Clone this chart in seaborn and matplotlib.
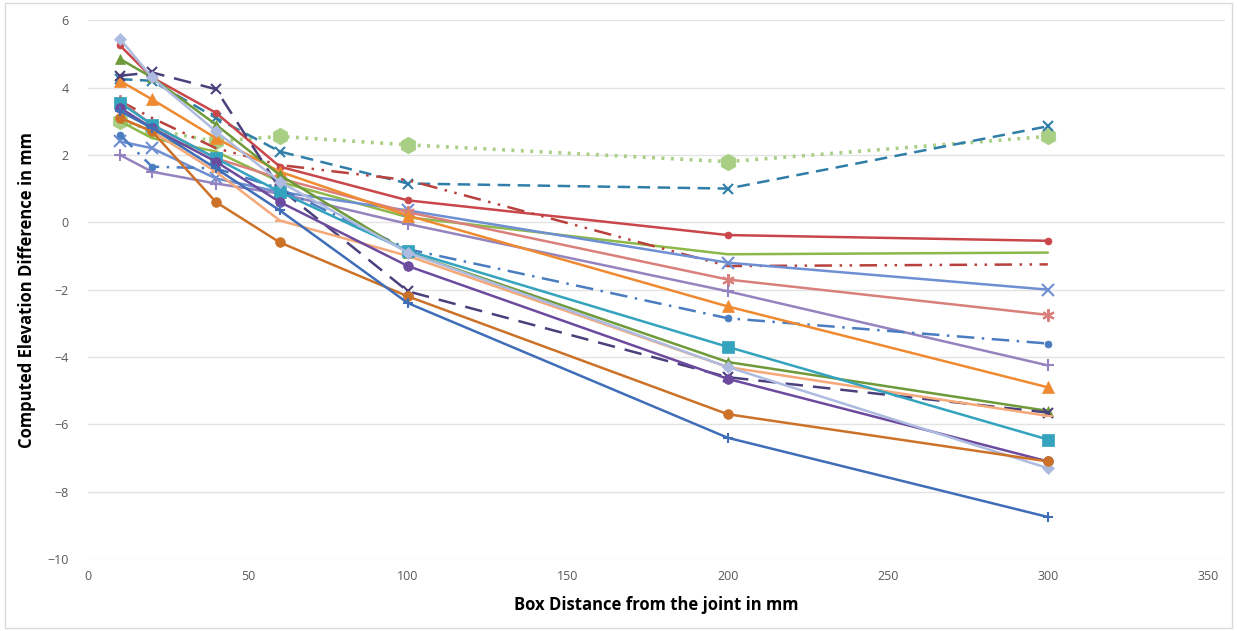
import numpy as np
import pandas as pd
import matplotlib
matplotlib.use("Agg")
import matplotlib.pyplot as plt
import seaborn as sns

# Box distances from the joint (mm)
distance = [10, 20, 40, 60, 100, 200, 300]

# Computed elevation differences (mm), one list per test series
s_green_dotted = [3.0, 2.75, 2.4, 2.55, 2.3, 1.8, 2.55]
s_teal_dashed = [4.25, 4.2, 3.1, 2.1, 1.15, 1.0, 2.85]
s_red_circle = [5.25, 4.3, 3.25, 1.65, 0.65, -0.38, -0.55]
s_green_plain = [3.0, 2.5, 2.1, 1.2, 0.15, -0.95, -0.9]
s_red_dashdot = [3.6, 3.1, 2.2, 1.7, 1.25, -1.3, -1.25]
s_blue_x = [2.4, 2.2, 1.3, 0.9, 0.35, -1.2, -2.0]
s_pink_star = [3.6, 2.9, 1.9, 1.3, 0.3, -1.7, -2.75]
s_purple_plus = [2.0, 1.5, 1.15, 0.85, -0.05, -2.05, -4.25]
s_blue_dashdot = [2.6, 1.65, 1.6, 1.0, -0.8, -2.85, -3.6]
s_orange_tri = [4.2, 3.65, 2.5, 1.5, 0.2, -2.5, -4.9]
s_olive_tri = [4.85, 4.3, 2.9, 1.4, -0.9, -4.15, -5.6]
s_navy_dashed = [4.35, 4.45, 3.95, 1.0, -2.05, -4.6, -5.65]
s_light_orange = [3.1, 2.7, 1.5, 0.05, -1.0, -4.3, -5.75]
s_teal_square = [3.55, 2.9, 1.9, 0.9, -0.85, -3.7, -6.45]
s_purple_circle = [3.4, 2.8, 1.8, 0.6, -1.3, -4.65, -7.1]
s_lavender_diamond = [5.45, 4.3, 2.7, 1.2, -0.9, -4.3, -7.3]
s_brown_circle = [3.1, 2.7, 0.6, -0.6, -2.2, -5.7, -7.1]
s_blue_plus = [3.3, 2.8, 1.6, 0.35, -2.4, -6.4, -8.75]

series = {
    "S1": s_green_dotted, "S2": s_teal_dashed, "S3": s_red_circle,
    "S4": s_green_plain, "S5": s_red_dashdot, "S6": s_blue_x,
    "S7": s_pink_star, "S8": s_purple_plus, "S9": s_blue_dashdot,
    "S10": s_orange_tri, "S11": s_olive_tri, "S12": s_navy_dashed,
    "S13": s_light_orange, "S14": s_teal_square, "S15": s_purple_circle,
    "S16": s_lavender_diamond, "S17": s_brown_circle, "S18": s_blue_plus,
}

# colour, marker, marker size, line style, line width
styles = {
    "S1": ("#A9CF84", "h", 12, (0, (0.8, 1.8)), 2.6),
    "S2": ("#2F7EA8", "x", 7, (0, (5, 3)), 1.8),
    "S3": ("#C9474A", "o", 5, "-", 1.8),
    "S4": ("#8DB84A", "", 0, "-", 1.8),
    "S5": ("#B8413D", "", 0, (0, (7, 3, 1, 3, 1, 3)), 1.8),
    "S6": ("#6F8FD3", "x", 8, "-", 1.8),
    "S7": ("#D9807C", (6, 2, 0), 9, "-", 1.8),
    "S8": ("#9483BE", "+", 8, "-", 1.8),
    "S9": ("#4A7CC0", "o", 5, (0, (7, 3, 1, 3)), 1.8),
    "S10": ("#F08A30", "^", 8, "-", 1.8),
    "S11": ("#6E9A3A", "^", 7, "-", 1.8),
    "S12": ("#4B3F7C", "x", 7, (0, (7, 4)), 1.8),
    "S13": ("#F5A878", "_", 7, "-", 1.8),
    "S14": ("#33A3BE", "s", 8, "-", 1.8),
    "S15": ("#6C4A9E", "o", 7, "-", 1.8),
    "S16": ("#AEBBE0", "D", 6, "-", 1.8),
    "S17": ("#CC7228", "o", 7, "-", 1.8),
    "S18": ("#3F6DB7", "+", 7, "-", 1.8),
}

df = pd.DataFrame(
    [(name, x, y) for name, vals in series.items() for x, y in zip(distance, vals)],
    columns=["series", "distance", "value"],
)

sns.set_theme(style="white")
plt.rcParams["font.family"] = ["Open Sans", "DejaVu Sans"]

fig = plt.figure(figsize=(12.37, 6.31), dpi=100)
ax = fig.add_axes([0.0711, 0.114, 0.919, 0.854])

for name in series:
    color, marker, msize, ls, lw = styles[name]
    sub = df[df["series"] == name]
    sns.lineplot(
        data=sub, x="distance", y="value", ax=ax, color=color,
        marker=marker if marker else None, markersize=msize,
        markeredgecolor=color,
        markeredgewidth=1.5 if marker in ("x", "+", "_", (6, 2, 0)) else 0.5,
        linewidth=lw, linestyle=ls, sort=False, legend=False,
    )

ax.set_xlim(0, 355.3)
ax.set_ylim(-10, 6)
ax.set_xticks(np.arange(0, 351, 50))
ax.set_yticks(np.arange(-10, 7, 2))
ax.yaxis.grid(True, color="#E3E3E3", linewidth=1)
ax.xaxis.grid(False)
for sp in ax.spines.values():
    sp.set_visible(False)
ax.tick_params(axis="both", length=0, labelsize=9, labelcolor="#595959")
ax.tick_params(axis="y", pad=14)
ax.tick_params(axis="x", pad=8)

ax.set_xlabel("Box Distance from the joint in mm", fontsize=12, fontweight="bold",
              color="black", labelpad=8)
ax.xaxis.set_label_coords(0.50, -0.068)
ax.set_ylabel("Computed Elevation Difference in mm", fontsize=12, fontweight="bold",
              color="black", labelpad=8)

# light frame around the whole chart area
fig.patches.append(plt.Rectangle((0.004, 0.004), 0.992, 0.992, transform=fig.transFigure,
                                 fill=False, edgecolor="#D9D9D9", linewidth=1))

fig.savefig("out.png", dpi=100)
